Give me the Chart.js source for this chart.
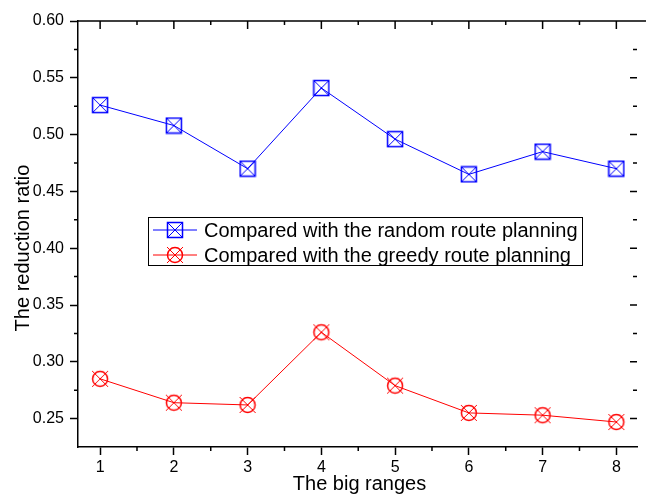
<!DOCTYPE html>
<html>
<head>
<meta charset="utf-8">
<script src="https://cdn.jsdelivr.net/npm/chart.js@4.4.1/dist/chart.umd.min.js"></script>
<style>
  body { margin: 0; background: #fff; }
  canvas { display: block; }
</style>
</head>
<body>
<canvas id="graf_ratio" width="646" height="495"></canvas>
<script>
// data
var ranges = [1, 2, 3, 4, 5, 6, 7, 8];
var randomRatio = [0.526, 0.508, 0.470, 0.541, 0.496, 0.465, 0.485, 0.470];
var greedyRatio = [0.285, 0.264, 0.262, 0.326, 0.279, 0.255, 0.253, 0.247];
var seriesNames = ['Compared with the random route planning', 'Compared with the greedy route planning'];

var FONT = "'Liberation Sans', Arial, sans-serif";
Chart.defaults.font.family = FONT;
Chart.defaults.font.size = 16;
Chart.defaults.color = '#000';

// marker images: square with a cross, circle with a cross
function squareX(color) {
	var c = document.createElement('canvas');
	c.width = 18; c.height = 18;
	var g = c.getContext('2d');
	g.strokeStyle = color;
	g.lineWidth = 1.5;
	g.strokeRect(1.5, 1.5, 15, 15);
	g.lineWidth = 1;
	g.beginPath();
	g.moveTo(1.5, 1.5); g.lineTo(16.5, 16.5);
	g.moveTo(16.5, 1.5); g.lineTo(1.5, 16.5);
	g.stroke();
	return c;
}
function circleX(color) {
	var c = document.createElement('canvas');
	c.width = 20; c.height = 20;
	var g = c.getContext('2d');
	g.strokeStyle = color;
	g.lineWidth = 1.5;
	g.beginPath();
	g.arc(10, 10, 7.5, 0, Math.PI * 2);
	g.stroke();
	g.lineWidth = 1;
	g.beginPath();
	g.moveTo(2, 2); g.lineTo(18, 18);
	g.moveTo(18, 2); g.lineTo(2, 18);
	g.stroke();
	return c;
}

var blue = '#0000ff';
var red = '#ff0000';
var blueMark = squareX(blue);
var redMark = circleX(red);

function pts(vals) {
	var out = [];
	for (var i in vals) out.push({x: ranges[i], y: vals[i]});
	return out;
}

// frame, minor ticks, titles and boxed legend
var extras = {
	id: 'extras',
	afterDraw: function(chart) {
		var ctx = chart.ctx, a = chart.chartArea;
		var xs = chart.scales.x, ys = chart.scales.y;
		ctx.save();
		ctx.strokeStyle = '#000';
		ctx.lineWidth = 1.5;
		ctx.beginPath();
		ctx.moveTo(a.left, a.top); ctx.lineTo(chart.width, a.top);
		var v, x, y;
		for (v = 1; v <= 8; v += 0.5) {
			x = xs.getPixelForValue(v);
			var len = (v % 1 === 0) ? 8 : 4;
			ctx.moveTo(x, a.top); ctx.lineTo(x, a.top + len);
			if (v % 1 !== 0) { ctx.moveTo(x, a.bottom); ctx.lineTo(x, a.bottom + 4); }
		}
		for (var k = 1; k <= 15; k++) {
			v = 0.225 + 0.025 * k;
			y = ys.getPixelForValue(v);
			var major = (k % 2 === 1);
			ctx.moveTo(a.right, y); ctx.lineTo(a.right - (major ? 7 : 4), y);
			if (!major) { ctx.moveTo(a.left, y); ctx.lineTo(a.left - 4, y); }
		}
		ctx.stroke();

		// axis titles
		ctx.fillStyle = '#000';
		ctx.font = '20px ' + FONT;
		ctx.textAlign = 'center';
		ctx.textBaseline = 'alphabetic';
		ctx.fillText('The big ranges', (a.left + a.right) / 2 + 2, 490);
		ctx.save();
		ctx.translate(29, 248);
		ctx.rotate(-Math.PI / 2);
		ctx.fillText('The reduction ratio', 0, 0);
		ctx.restore();

		// legend box
		ctx.lineWidth = 1;
		ctx.strokeRect(148.5, 217.5, 434, 48);
		var marks = [blueMark, redMark];
		var cols = [blue, red];
		var rows = [230, 255];
		ctx.textAlign = 'left';
		ctx.textBaseline = 'middle';
		for (var i = 0; i < 2; i++) {
			ctx.strokeStyle = cols[i];
			ctx.beginPath();
			ctx.moveTo(153, rows[i]); ctx.lineTo(197, rows[i]);
			ctx.stroke();
			ctx.drawImage(marks[i], 175 - marks[i].width / 2, rows[i] - marks[i].height / 2);
			ctx.fillStyle = '#000';
			ctx.fillText(chart.data.datasets[i].label, 204, rows[i] + 1);
		}
		ctx.restore();
	}
};

var tickFont = { family: FONT, size: 16 };

var ctx = document.getElementById('graf_ratio');
var lineGraph = new Chart(ctx, {
	type: 'line',
	data: {
		datasets: [
			{
				label: seriesNames[0],
				data: pts(randomRatio),
				borderColor: blue,
				borderWidth: 1,
				pointStyle: blueMark,
				pointRadius: 8
			},
			{
				label: seriesNames[1],
				data: pts(greedyRatio),
				borderColor: red,
				borderWidth: 1,
				pointStyle: redMark,
				pointRadius: 8
			}
		]
	},
	options: {
		responsive: false,
		animation: false,
		layout: { padding: { top: 21, left: 0, right: 0, bottom: 0 } },
		plugins: { legend: { display: false }, tooltip: { enabled: false } },
		scales: {
			x: {
				type: 'linear',
				min: 0.7,
				max: 8.28,
				afterFit: function(s) { s.height = 48; },
				border: { color: '#000', width: 1.5 },
				grid: { drawOnChartArea: false, drawTicks: true, tickLength: 8, tickColor: '#000', tickWidth: 1.5 },
				ticks: { stepSize: 1, includeBounds: false, padding: 3, font: tickFont, color: '#000' }
			},
			y: {
				min: 0.225,
				max: 0.60,
				afterFit: function(s) { s.width = 78; },
				border: { color: '#000', width: 1.5 },
				grid: { drawOnChartArea: false, drawTicks: true, tickLength: 8, tickColor: '#000', tickWidth: 1.5 },
				ticks: {
					stepSize: 0.05,
					includeBounds: false,
					padding: 6,
					font: tickFont,
					color: '#000',
					callback: function(v) { return v.toFixed(2); }
				}
			}
		}
	},
	plugins: [extras]
});
</script>
</body>
</html>
